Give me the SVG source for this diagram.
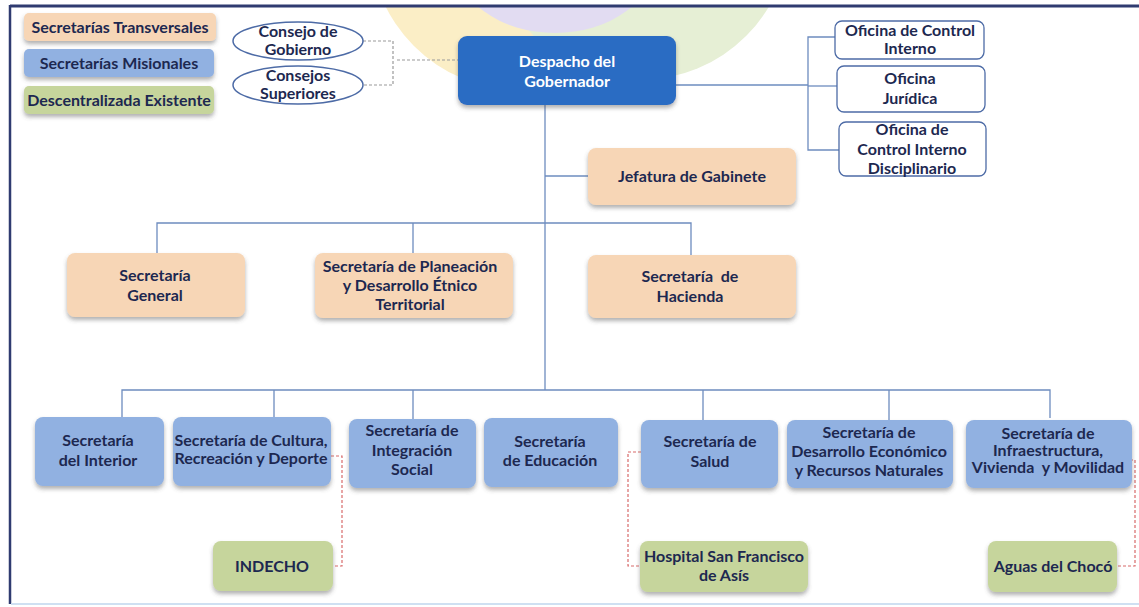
<svg xmlns="http://www.w3.org/2000/svg" width="1139" height="607" viewBox="0 0 1139 607">
<defs>
<filter id="sh" x="-10%" y="-10%" width="120%" height="140%">
<feDropShadow dx="0" dy="3" stdDeviation="2" flood-color="#555" flood-opacity="0.45"/>
</filter>
<clipPath id="frame"><rect x="11" y="7" width="1128" height="596"/></clipPath>
</defs>
<style>
text{font-family:Lato,"Liberation Sans",sans-serif;font-weight:bold;font-size:16px;fill:#1d2850;text-anchor:middle;white-space:pre}
.w{fill:#ffffff;font-size:16px}
.peach{fill:#f7d6b6}
.blue{fill:#91b1e1}
.green{fill:#c6d59c}
.off{fill:#ffffff;stroke:#4d6ba6;stroke-width:1.3}
.ell{fill:#ffffff;stroke:#4d6ba6;stroke-width:1.5}
.ln{fill:none;stroke:#6d8cbf;stroke-width:1.3}
.gd{fill:none;stroke:#9a9a9a;stroke-width:1.2;stroke-dasharray:3 2}
.rd{fill:none;stroke:#d86a6a;stroke-width:1.2;stroke-dasharray:3 2}
</style>
<rect width="1139" height="607" fill="#ffffff"/>
<g clip-path="url(#frame)">
<circle cx="520" cy="-60" r="150" fill="#fbeec6"/>
<circle cx="640" cy="-70" r="150" fill="#e6efd5"/>
<ellipse cx="555" cy="-40" rx="100" ry="73" fill="#e2dcf2"/>
</g>
<g id="frame-lines">
<line x1="10" y1="6" x2="1139" y2="6" stroke="#2f3b70" stroke-width="3"/>
<line x1="10" y1="5" x2="10" y2="604" stroke="#2f3b70" stroke-width="2.5"/>
<line x1="11" y1="604" x2="1139" y2="604" stroke="#cfe0f2" stroke-width="2"/>
</g>
<g id="connectors">
<path class="gd" d="M363 41 H393 V85 H363"/>
<path class="gd" d="M397 60 H458"/>
<path class="ln" d="M545 104 V390"/>
<path class="ln" d="M676 85 H808"/>
<path class="ln" d="M835 37 H808 V150 H839"/>
<path class="ln" d="M808 86 H837"/>
<path class="ln" d="M545 176 H588"/>
<path class="ln" d="M157 253 V223 H691 V255"/>
<path class="ln" d="M413 223 V253"/>
<path class="ln" d="M122 417 V390 H1050 V418"/>
<path class="ln" d="M274 390 V417"/>
<path class="ln" d="M413 390 V419"/>
<path class="ln" d="M703 390 V420"/>
<path class="ln" d="M889 390 V420"/>
<path class="rd" d="M331 456 H342 V566 H334"/>
<path class="rd" d="M641 452 H628 V566 H640"/>
<path class="rd" d="M1130 460 H1135 V566 H1118"/>
</g>
<g id="legend-transversales"><rect class="peach" x="24" y="13" width="192" height="28" rx="5" filter="url(#sh)"/><text x="120" y="33">Secretarías Transversales</text></g>
<g id="legend-misionales"><rect class="blue" x="24" y="49" width="190" height="28" rx="5" filter="url(#sh)"/><text x="119" y="69">Secretarías Misionales</text></g>
<g id="legend-descentralizada"><rect class="green" x="24" y="86" width="190" height="28" rx="5" filter="url(#sh)"/><text x="119" y="106">Descentralizada Existente</text></g>
<g id="consejo-gobierno"><ellipse class="ell" cx="298" cy="41" rx="65" ry="19"/><text x="298" y="37">Consejo de</text><text x="298" y="55">Gobierno</text></g>
<g id="consejos-superiores"><ellipse class="ell" cx="298" cy="85" rx="65" ry="19"/><text x="298" y="81">Consejos</text><text x="298" y="99">Superiores</text></g>
<g id="despacho"><rect x="458" y="36" width="218" height="69" rx="9" fill="#2c6cc3" filter="url(#sh)"/><text class="w" x="567" y="67">Despacho del</text><text class="w" x="567" y="87">Gobernador</text></g>
<g id="oficina-control-interno"><rect class="off" x="835" y="21" width="149" height="38" rx="7"/><text x="910" y="36">Oficina de Control</text><text x="910" y="54">Interno</text></g>
<g id="oficina-juridica"><rect class="off" x="837" y="66" width="148" height="46" rx="7"/><text x="910" y="84">Oficina</text><text x="910" y="104">Jurídica</text></g>
<g id="oficina-disciplinario"><rect class="off" x="839" y="122" width="147" height="54" rx="7"/><text x="912" y="135">Oficina de</text><text x="912" y="155">Control Interno</text><text x="912" y="174">Disciplinario</text></g>
<g id="jefatura"><rect class="peach" x="588" y="148" width="208" height="57" rx="8" filter="url(#sh)"/><text x="692" y="182">Jefatura de Gabinete</text></g>
<g id="sec-general"><rect class="peach" x="67" y="253" width="178" height="64" rx="8" filter="url(#sh)"/><text x="155" y="281">Secretaría</text><text x="155" y="301">General</text></g>
<g id="sec-planeacion"><rect class="peach" x="315" y="253" width="198" height="65" rx="8" filter="url(#sh)"/><text x="410" y="272">Secretaría de Planeación</text><text x="410" y="291">y Desarrollo Étnico</text><text x="410" y="310">Territorial</text></g>
<g id="sec-hacienda"><rect class="peach" x="588" y="255" width="208" height="63" rx="8" filter="url(#sh)"/><text x="690" y="282">Secretaría  de</text><text x="690" y="302">Hacienda</text></g>
<g id="sec-interior"><rect class="blue" x="35" y="417" width="129" height="69" rx="8" filter="url(#sh)"/><text x="98" y="446">Secretaría</text><text x="98" y="466">del Interior</text></g>
<g id="sec-cultura"><rect class="blue" x="173" y="417" width="158" height="69" rx="8" filter="url(#sh)"/><text x="251" y="446">Secretaría de Cultura,</text><text x="251" y="464">Recreación y Deporte</text></g>
<g id="sec-integracion"><rect class="blue" x="349" y="419" width="127" height="69" rx="8" filter="url(#sh)"/><text x="412" y="436">Secretaría de</text><text x="412" y="456">Integración</text><text x="412" y="475">Social</text></g>
<g id="sec-educacion"><rect class="blue" x="484" y="418" width="134" height="69" rx="8" filter="url(#sh)"/><text x="550" y="447">Secretaría</text><text x="550" y="466">de Educación</text></g>
<g id="sec-salud"><rect class="blue" x="641" y="420" width="137" height="68" rx="8" filter="url(#sh)"/><text x="710" y="447">Secretaría de</text><text x="710" y="467">Salud</text></g>
<g id="sec-desarrollo"><rect class="blue" x="787" y="420" width="166" height="68" rx="8" filter="url(#sh)"/><text x="869" y="438">Secretaría de</text><text x="869" y="457">Desarrollo Económico</text><text x="869" y="476">y Recursos Naturales</text></g>
<g id="sec-infraestructura"><rect class="blue" x="966" y="420" width="166" height="68" rx="8" filter="url(#sh)"/><text x="1048" y="439">Secretaría de</text><text x="1048" y="456">Infraestructura,</text><text x="1048" y="473">Vivienda  y Movilidad</text></g>
<g id="indecho"><rect class="green" x="213" y="541" width="120" height="50" rx="8" filter="url(#sh)"/><text x="272" y="572">INDECHO</text></g>
<g id="hospital"><rect class="green" x="640" y="541" width="168" height="51" rx="8" filter="url(#sh)"/><text x="724" y="562">Hospital San Francisco</text><text x="724" y="581">de Asís</text></g>
<g id="aguas"><rect class="green" x="988" y="541" width="129" height="51" rx="8" filter="url(#sh)"/><text x="1053" y="572">Aguas del Chocó</text></g>
</svg>
